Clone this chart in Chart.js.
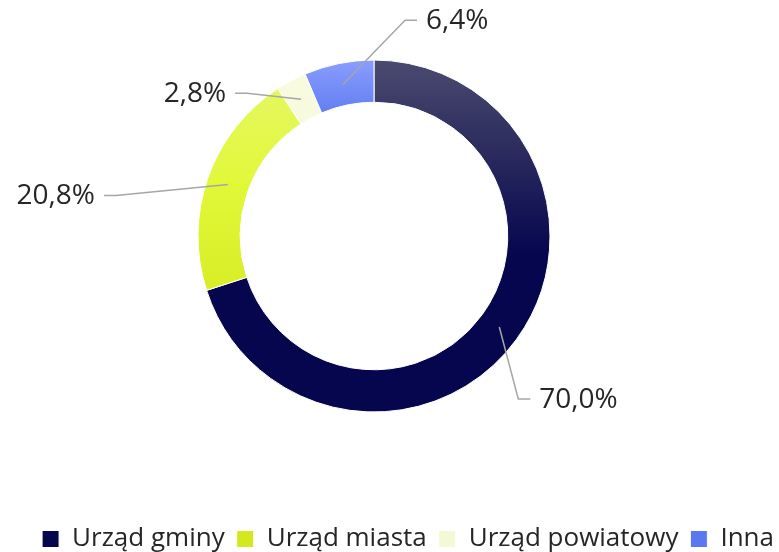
<!DOCTYPE html>
<html>
<head>
<meta charset="utf-8">
<script src="https://cdn.jsdelivr.net/npm/chart.js@4"></script>
<style>
  html, body { margin: 0; padding: 0; background: #fff; overflow: hidden; }
  #wrap { position: relative; width: 779px; height: 552px; overflow: hidden; }
  /* canvas is a little larger than the frame so the ring and the legend land where they should */
  #office_chart { position: absolute; left: -38px; top: -100px; }
</style>
</head>
<body>
<div id="wrap"><canvas id="office_chart" width="824" height="662"></canvas></div>
<script>
// Chart data
const categories = ["Urząd gminy", "Urząd miasta", "Urząd powiatowy", "Inna"];
const shares = [70.0, 20.8, 2.8, 6.4];
const valueLabels = ["70,0%", "20,8%", "2,8%", "6,4%"];

// Vertical gradient stops for each slice (0 = top of ring, 1 = bottom)
const sliceStops = [
  [[0, "#4a4a70"], [0.25, "#2c2c5e"], [0.55, "#06064f"], [1, "#06064f"]],
  [[0, "#e6f76a"], [0.35, "#e1f83a"], [0.7, "#d7ec22"], [1, "#d4e81e"]],
  [[0, "#f8fbdf"], [1, "#f4f9d4"]],
  [[0, "#8a9dff"], [0.18, "#5b79ee"], [1, "#5b79ee"]],
];

// Leader line elbows relative to the slice anchor, and line direction
const leaderLayout = [
  { dx: 19, dy: 72, dir: 1 },
  { dx: -112, dy: 11, dir: -1 },
  { dx: -54, dy: -6, dir: -1 },
  { dx: 62, dy: -64, dir: 1 },
];

const RING_RADIUS = 176;

function sliceGradient(context) {
  const chart = context.chart;
  const area = chart.chartArea;
  if (!area) return sliceStops[context.dataIndex][0][1];
  const cy = (area.top + area.bottom) / 2;
  const g = chart.ctx.createLinearGradient(0, cy - RING_RADIUS, 0, cy + RING_RADIUS);
  sliceStops[context.dataIndex].forEach(([p, c]) => g.addColorStop(p, c));
  return g;
}

// Draws the percentage labels with elbow leader lines
const leaderLabels = {
  id: "leaderLabels",
  afterDatasetsDraw(chart) {
    const ctx = chart.ctx;
    const meta = chart.getDatasetMeta(0);
    ctx.save();
    ctx.font = "28px 'Open Sans'";
    ctx.textBaseline = "middle";
    meta.data.forEach((arc, i) => {
      const p = arc.getProps(["x", "y", "startAngle", "endAngle", "innerRadius", "outerRadius"], true);
      const mid = (p.startAngle + p.endAngle) / 2;
      const r = (p.innerRadius + p.outerRadius) / 2;
      const ax = p.x + Math.cos(mid) * r;
      const ay = p.y + Math.sin(mid) * r;
      const lay = leaderLayout[i];
      const ex = ax + lay.dx;
      const ey = ay + lay.dy;
      const tx = ex + lay.dir * 12;
      ctx.strokeStyle = "#a6a6a6";
      ctx.lineWidth = 1.5;
      ctx.beginPath();
      ctx.moveTo(ax, ay);
      ctx.lineTo(ex, ey);
      ctx.lineTo(tx, ey);
      ctx.stroke();
      ctx.fillStyle = "#262626";
      ctx.textAlign = lay.dir > 0 ? "left" : "right";
      ctx.fillText(valueLabels[i], tx + lay.dir * 9, ey + 1);
    });
    ctx.restore();
  },
};

const ctx = document.getElementById("office_chart").getContext("2d");

new Chart(ctx, {
  type: "doughnut",
  data: {
    labels: categories,
    datasets: [
      {
        data: shares,
        backgroundColor: sliceGradient,
        borderColor: "#ffffff",
        borderWidth: 1,
        radius: RING_RADIUS,
        cutout: "76%",
      },
    ],
  },
  options: {
    responsive: false,
    animation: false,
    layout: { padding: { top: 58, bottom: 0, left: 0, right: 0 } },
    plugins: {
      legend: {
        display: true,
        position: "bottom",
        align: "end",
        labels: {
          boxWidth: 17,
          boxHeight: 17,
          padding: 12,
          color: "#262626",
          font: { family: "'Open Sans'", size: 26 },
        },
      },
      tooltip: { enabled: false },
    },
  },
  plugins: [leaderLabels],
});
</script>
</body>
</html>
